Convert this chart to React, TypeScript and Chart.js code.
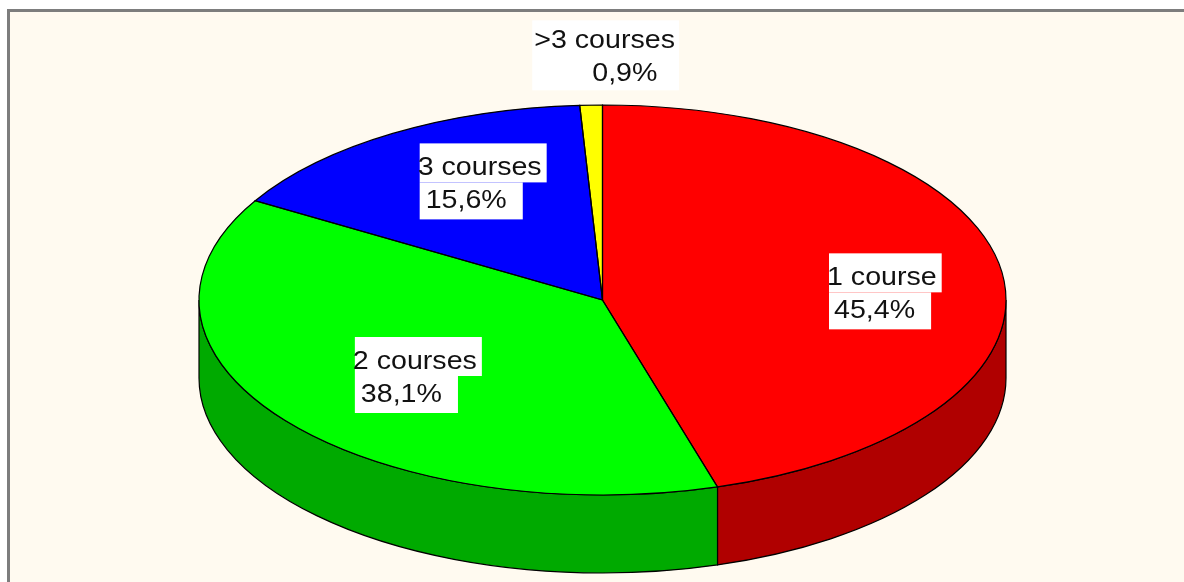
import { useEffect, useRef } from 'react';
import { Chart, registerables } from 'chart.js';

Chart.register(...registerables);

// ---- data ----
const categories = ['1 course', '2 courses', '3 courses', '>3 courses'];
const shares = [45.4, 38.1, 15.6, 0.9];

// ---- styles ----
const topColors = ['#FF0000', '#00FF00', '#0000FF', '#FFFF00'];
const sideColors = ['#B00000', '#00AA00', '#0000AA', '#AAAA00'];
const RADIUS_X = 403.5;
const TILT = 195 / 403.5; // vertical squash of the pie
const DEPTH = 78;
const FONT = '26px "Liberation Sans", Arial, sans-serif';
const SX = 1.1;
const LINE_GAP = 33;
const labelRadius = [0.7, 0.7, 0.7, 1.25];
const labelDX = [-55, -27, -38, -54];
const labelDY = [5, -15, -8, -8];
const line2Indent = [7, 8, 8, 58];
const singleBox = [false, false, false, true];

const pie3d = {
  id: 'pie3d',
  beforeDatasetsDraw(chart: any) {
    const ctx: CanvasRenderingContext2D = chart.ctx;
    const arcs = chart.getDatasetMeta(0).data;
    ctx.save();
    arcs.forEach((arc: any, i: number) => {
      const { x, y, startAngle, endAngle, outerRadius } = arc;
      const ry = outerRadius * TILT;
      for (let m = -1; m <= 1; m++) {
        const s = Math.max(startAngle + m * 2 * Math.PI, 0);
        const e = Math.min(endAngle + m * 2 * Math.PI, Math.PI);
        if (e <= s) continue;
        ctx.beginPath();
        ctx.ellipse(x, y, outerRadius, ry, 0, s, e);
        ctx.ellipse(x, y + DEPTH, outerRadius, ry, 0, e, s, true);
        ctx.closePath();
        ctx.fillStyle = sideColors[i];
        ctx.fill();
        ctx.lineWidth = 1.2;
        ctx.strokeStyle = '#000';
        ctx.stroke();
      }
    });
    ctx.restore();
    ctx.save();
    const cx = arcs[0].x;
    const cy = arcs[0].y;
    ctx.translate(cx, cy);
    ctx.scale(1, TILT);
    ctx.translate(-cx, -cy);
  },
  afterDatasetsDraw(chart: any) {
    const ctx: CanvasRenderingContext2D = chart.ctx;
    ctx.restore();
    const arcs = chart.getDatasetMeta(0).data;
    const total = shares.reduce((a, b) => a + b, 0);
    // outlines of the top face
    ctx.save();
    ctx.lineWidth = 1.2;
    ctx.strokeStyle = '#000';
    arcs.forEach((arc: any) => {
      const { x, y, startAngle, endAngle, outerRadius } = arc;
      ctx.beginPath();
      ctx.moveTo(x, y);
      ctx.ellipse(x, y, outerRadius, outerRadius * TILT, 0, startAngle, endAngle);
      ctx.closePath();
      ctx.stroke();
    });
    // labels
    ctx.font = FONT;
    ctx.textBaseline = 'alphabetic';
    ctx.textAlign = 'left';
    arcs.forEach((arc: any, i: number) => {
      const { x, y, startAngle, endAngle, outerRadius } = arc;
      const mid = (startAngle + endAngle) / 2;
      const f = labelRadius[i];
      const ax = x + Math.cos(mid) * outerRadius * f + labelDX[i];
      const ay = y + Math.sin(mid) * outerRadius * TILT * f + labelDY[i];
      const l1 = categories[i];
      const l2 = ((shares[i] / total) * 100).toFixed(1).replace('.', ',') + '%';
      const w1 = ctx.measureText(l1).width * SX;
      const w2 = ctx.measureText(l2).width * SX;
      const ind = line2Indent[i];
      const top = ay - 32;
      const step = ay + 7;
      const bottom = ay + LINE_GAP + 11;
      ctx.fillStyle = '#FFFFFF';
      if (singleBox[i]) {
        const right = Math.max(ax + w1 + 4, ax + ind + w2 + 4);
        ctx.fillRect(ax - 2, top + 4, right - ax + 2, bottom - top - 6);
      } else {
        ctx.fillRect(ax + 2, top, w1 + 3, step - top);
        ctx.fillRect(ax + 2, step, ind + w2 + 14, bottom - step);
      }
      ctx.fillStyle = '#111111';
      ctx.save();
      ctx.translate(ax, ay);
      ctx.scale(SX, 1);
      ctx.fillText(l1, 0, 0);
      ctx.restore();
      ctx.save();
      ctx.translate(ax + ind, ay + LINE_GAP);
      ctx.scale(SX, 1);
      ctx.fillText(l2, 0, 0);
      ctx.restore();
    });
    ctx.restore();
  },
};

export default function App() {
  const ref = useRef<HTMLCanvasElement>(null);
  useEffect(() => {
    const chart = new Chart(ref.current as HTMLCanvasElement, {
      type: 'pie',
      data: {
        labels: categories,
        datasets: [
          {
            data: shares,
            backgroundColor: topColors,
            borderWidth: 0,
            radius: RADIUS_X,
            clip: false,
          } as any,
        ],
      },
      options: {
        animation: false,
        responsive: false,
        devicePixelRatio: 1,
        events: [],
        layout: { padding: { left: 21, top: 18, right: 0, bottom: 0 } },
        plugins: {
          legend: { display: false },
          tooltip: { enabled: false },
        },
      },
      plugins: [pie3d as any],
    });
    return () => chart.destroy();
  }, []);
  return (
    <>
      <div
        style={{
          position: 'fixed',
          left: 7,
          top: 9,
          width: 1400,
          height: 800,
          borderTop: '3px solid #7d7d7d',
          borderLeft: '3px solid #7d7d7d',
          background: '#FFFAF0',
        }}
      />
      <canvas
        ref={ref}
        width={1184}
        height={582}
        style={{ position: 'fixed', left: 0, top: 0, width: 1184, height: 582 }}
      />
    </>
  );
}
